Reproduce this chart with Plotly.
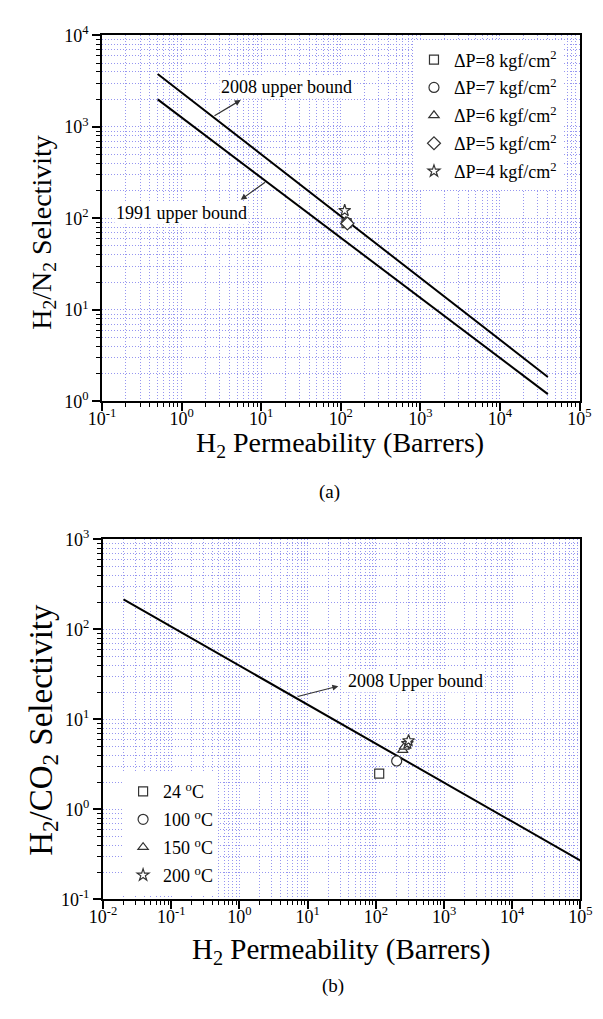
import math
import plotly.graph_objects as go

# ---------------- data ----------------
# (a) H2/N2
ub2008_a_x = [0.5, 40000]
ub2008_a_y = [3800, 1.85]
ub1991_a_x = [0.5, 40000]
ub1991_a_y = [2000, 1.2]

dp_labels = ["ΔP=8 kgf/cm<sup>2</sup>", "ΔP=7 kgf/cm<sup>2</sup>", "ΔP=6 kgf/cm<sup>2</sup>",
             "ΔP=5 kgf/cm<sup>2</sup>", "ΔP=4 kgf/cm<sup>2</sup>"]
dp_perm = [118, 120, 116, 121, 112]
dp_sel = [89, 90, 93, 88, 122]

# (b) H2/CO2
ub2008_b_x = [0.02, 100000]
ub2008_b_y = [215, 0.27]

t_labels = ["24 <sup>o</sup>C", "100 <sup>o</sup>C", "150 <sup>o</sup>C", "200 <sup>o</sup>C"]
t_perm = [[112], [202], [248, 262], [290, 302]]
t_sel = [[2.5], [3.45], [4.55, 4.95], [5.4, 5.8]]

symbols_a = ["square", "circle", "triangle-up", "diamond", "star"]
symbols_b = ["square", "circle", "triangle-up", "star"]
sizes_a = [9, 10, 9, 10, 9]
sizes_b = [9, 10, 9, 9]

xt_a = [0.1, 1, 10, 100, 1000, 10000, 100000]
xt_a_txt = ["10<sup>-1</sup>", "10<sup>0</sup>", "10<sup>1</sup>", "10<sup>2</sup>",
            "10<sup>3</sup>", "10<sup>4</sup>", "10<sup>5</sup>"]
yt_a = [1, 10, 100, 1000, 10000]
yt_a_txt = ["10<sup>0</sup>", "10<sup>1</sup>", "10<sup>2</sup>", "10<sup>3</sup>", "10<sup>4</sup>"]
xt_b = [0.01] + xt_a
xt_b_txt = ["10<sup>-2</sup>"] + xt_a_txt
yt_b = [0.1, 1, 10, 100, 1000]
yt_b_txt = ["10<sup>-1</sup>", "10<sup>0</sup>", "10<sup>1</sup>", "10<sup>2</sup>", "10<sup>3</sup>"]

W, H = 603, 1019
FONT = "Liberation Serif, Times New Roman, serif"
GRID = "rgb(150,150,240)"
GDASH = "1px,2px"


def minor_vals(lo, hi):
    out = []
    for e in range(lo, hi):
        for m in range(2, 10):
            out.append(m * 10 ** e)
    return out


def px_x(p):
    return p / W


def px_y(p):
    return 1 - p / H


fig = go.Figure()

# ---- top plot lines
fig.add_trace(go.Scatter(x=ub2008_a_x, y=ub2008_a_y, mode="lines", line=dict(color="black", width=2),
                         showlegend=False, xaxis="x", yaxis="y"))
fig.add_trace(go.Scatter(x=ub1991_a_x, y=ub1991_a_y, mode="lines", line=dict(color="black", width=2),
                         showlegend=False, xaxis="x", yaxis="y"))
for i, lab in enumerate(dp_labels):
    fig.add_trace(go.Scatter(x=[dp_perm[i]], y=[dp_sel[i]], mode="markers", name=lab,
                             legendgroup="a%d" % i, legend="legend",
                             marker=dict(symbol=symbols_a[i], size=sizes_a[i], color="white",
                                         line=dict(color="#333333", width=1.2)),
                             xaxis="x", yaxis="y"))

# ---- bottom plot
fig.add_trace(go.Scatter(x=ub2008_b_x, y=ub2008_b_y, mode="lines", line=dict(color="black", width=2),
                         showlegend=False, xaxis="x2", yaxis="y2"))
for i, lab in enumerate(t_labels):
    fig.add_trace(go.Scatter(x=t_perm[i], y=t_sel[i], mode="markers", name=lab,
                             legendgroup="b%d" % i, legend="legend2",
                             marker=dict(symbol=symbols_b[i], size=sizes_b[i], color="white",
                                         line=dict(color="#333333", width=1.2)),
                             xaxis="x2", yaxis="y2"))


def axis_common(tv, tt, lo, hi, domain, anchor, standoff):
    return dict(type="log", range=[lo, hi], domain=domain, anchor=anchor,
                tickvals=tv, ticktext=tt, ticks="outside", ticklen=8, tickwidth=1.5,
                tickcolor="black", showline=True, linecolor="black", linewidth=2, mirror=True,
                showgrid=True, gridcolor=GRID, griddash=GDASH, gridwidth=1, zeroline=False,
                ticklabeloverflow="allow", ticklabelstandoff=standoff,
                tickfont=dict(family=FONT, size=18, color="black"),
                minor=dict(tickvals=minor_vals(lo, hi), ticks="outside", ticklen=4,
                           tickcolor="black", tickwidth=1, showgrid=True, gridcolor=GRID,
                           griddash=GDASH, gridwidth=1))


xa_dom = [px_x(92), px_x(591)]
ya_dom = [px_y(398), px_y(24)]
xb_dom = [px_x(93), px_x(592)]
yb_dom = [px_y(907), px_y(539)]

fig.update_layout(
    width=W, height=H, margin=dict(l=0, r=0, t=0, b=0),
    paper_bgcolor="white", plot_bgcolor="white",
    font=dict(family=FONT, color="black"),
    xaxis=axis_common(xt_a, xt_a_txt, -1, 5, xa_dom, "y", -8),
    yaxis=axis_common(yt_a, yt_a_txt, 0, 4, ya_dom, "x", 0),
    xaxis2=axis_common(xt_b, xt_b_txt, -2, 5, xb_dom, "y2", -8),
    yaxis2=axis_common(yt_b, yt_b_txt, -1, 3, yb_dom, "x2", 0),
    legend=dict(x=px_x(418), y=px_y(30), xanchor="left", yanchor="top", bgcolor="white",
                font=dict(family=FONT, size=18, color="black"), tracegroupgap=1.5,
                borderwidth=0),
    legend2=dict(x=px_x(114), y=px_y(778), xanchor="left", yanchor="top", bgcolor="white",
                 font=dict(family=FONT, size=18, color="black"), tracegroupgap=1.5,
                 borderwidth=0),
)

# white blank areas behind legends
fig.add_shape(type="rect", xref="paper", yref="paper", x0=px_x(408), x1=px_x(590), y0=px_y(202),
              y1=px_y(25), fillcolor="white", line=dict(width=0), layer="between")
fig.add_shape(type="rect", xref="paper", yref="paper", x0=px_x(94), x1=px_x(232), y0=px_y(906),
              y1=px_y(753), fillcolor="white", line=dict(width=0), layer="between")

# labels
ann_font = dict(family=FONT, size=18, color="black")


def label(x, y, text, font, angle=0):
    fig.add_annotation(xref="paper", yref="paper", x=px_x(x), y=px_y(y), text=text,
                       xanchor="center", yanchor="middle", showarrow=False, bgcolor="white",
                       font=font, textangle=angle)


label(285, 77, "2008 upper bound", ann_font)
label(175, 205, "1991 upper bound", ann_font)
label(420, 684, "2008 Upper bound", ann_font)

# arrows (annotation coords on log axes are log10 values)
arrow_style = dict(showarrow=True, arrowhead=2, arrowsize=1, arrowwidth=1.2, arrowcolor="#333333", text="")


def arrow(xr, yr, head, tail):
    fig.add_annotation(xref=xr, yref=yr, axref=xr, ayref=yr,
                       x=math.log10(head[0]), y=math.log10(head[1]),
                       ax=math.log10(tail[0]), ay=math.log10(tail[1]), **arrow_style)


arrow("x", "y", (5.53, 1968), (2.48, 1295))
arrow("x", "y", (5.53, 160), (11.7, 255))
arrow("x2", "y2", (28.2, 23.4), (6.8, 17.8))

label(341, 442, "H<sub>2</sub> Permeability (Barrers)", dict(family=FONT, size=28, color="black"))
label(342, 960, "H<sub>2</sub> Permeability (Barrers)", dict(family=FONT, size=29, color="black"))
label(30, 225, "H<sub>2</sub>/N<sub>2</sub> Selectivity", dict(family=FONT, size=28, color="black"), -90)
label(30, 734, "H<sub>2</sub>/CO<sub>2</sub> Selectivity", dict(family=FONT, size=33, color="black"), -90)
label(330, 491, "(a)", dict(family=FONT, size=19, color="black"))
label(333, 996, "(b)", dict(family=FONT, size=19, color="black"))

fig.write_html("out.html")
